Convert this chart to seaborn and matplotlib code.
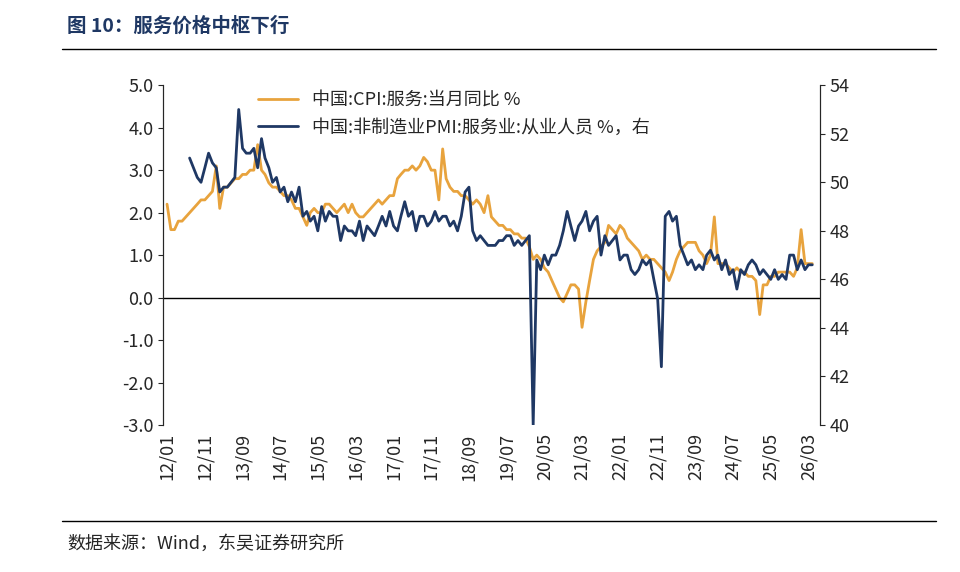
import pandas as pd
import numpy as np
import matplotlib
matplotlib.use('Agg')
import matplotlib.pyplot as plt
import seaborn as sns

sns.set_style('ticks')
plt.rcParams['font.family'] = ['Noto Sans CJK SC', 'DejaVu Sans']
plt.rcParams['axes.unicode_minus'] = False

# CPI services YoY, monthly from 2012-01
cpi_services = [
    2.2, 1.6, 1.6, 1.8, 1.8, 1.9, 2.0, 2.1, 2.2, 2.3, 2.3, 2.4,
    2.5, 3.1, 2.1, 2.6, 2.6, 2.7, 2.8, 2.8, 2.9, 2.9, 3.0, 3.0,
    3.6, 3.0, 2.9, 2.7, 2.6, 2.6, 2.5, 2.4, 2.4, 2.3, 2.1, 2.1,
    1.9, 1.7, 2.0, 2.1, 2.0, 2.0, 2.2, 2.2, 2.1, 2.0, 2.1, 2.2,
    2.0, 2.2, 2.0, 1.9, 1.9, 2.0, 2.1, 2.2, 2.3, 2.2, 2.3, 2.4,
    2.4, 2.8, 2.9, 3.0, 3.0, 3.1, 3.0, 3.1, 3.3, 3.2, 3.0, 3.0,
    2.3, 3.5, 2.8, 2.6, 2.5, 2.5, 2.4, 2.4, 2.3, 2.2, 2.3, 2.2,
    2.0, 2.4, 1.9, 1.8, 1.7, 1.7, 1.6, 1.6, 1.5, 1.5, 1.4, 1.4,
    1.2, 0.9, 1.0, 0.9, 0.7, 0.6, 0.4, 0.2, 0.0, -0.1, 0.1, 0.3,
    0.3, 0.2, -0.7, -0.1, 0.4, 0.9, 1.1, 1.2, 1.3, 1.7, 1.6, 1.5,
    1.7, 1.6, 1.4, 1.3, 1.2, 1.1, 0.9, 1.0, 0.9, 0.9, 0.8, 0.7,
    0.6, 0.4, 0.6, 0.9, 1.1, 1.2, 1.3, 1.3, 1.3, 1.1, 1.0, 0.8,
    1.0, 1.9, 0.8, 0.8, 0.8, 0.7, 0.6, 0.7, 0.6, 0.6, 0.5, 0.5,
    0.4, -0.4, 0.3, 0.3, 0.5, 0.5, 0.6, 0.6, 0.6, 0.6, 0.5, 0.7,
    1.6, 0.8, 0.8, 0.8,
]

# Non-manufacturing PMI: services employment, monthly from 2012-07
pmi_employment = [
    51.0, 50.6, 50.2, 50.0, 50.6, 51.2,
    50.8, 50.6, 49.6, 49.8, 49.8, 50.0, 50.2, 53.0, 51.4, 51.2, 51.2, 51.4,
    50.6, 51.8, 51.0, 50.6, 50.0, 50.2, 49.6, 49.8, 49.2, 49.6, 49.2, 49.8,
    48.6, 48.8, 48.4, 48.6, 48.0, 49.0, 48.4, 48.8, 48.6, 48.6, 47.6, 48.2,
    48.0, 48.0, 47.8, 48.4, 47.6, 48.2, 48.0, 47.8, 48.2, 48.6, 48.2, 48.8,
    48.2, 48.0, 48.6, 49.2, 48.6, 48.8, 48.0, 48.6, 48.6, 48.2, 48.4, 48.8,
    48.4, 48.6, 48.6, 48.2, 48.4, 48.0, 48.6, 49.6, 49.8, 48.0, 47.6, 47.8,
    47.6, 47.4, 47.4, 47.4, 47.6, 47.6, 47.8, 47.8, 47.4, 47.6, 47.4, 47.6,
    47.8, 40.0, 46.8, 46.4, 47.0, 46.6, 47.0, 47.0, 47.4, 48.0, 48.8, 48.2,
    47.6, 48.2, 48.4, 48.8, 48.0, 48.4, 48.6, 47.0, 47.8, 47.4, 47.6, 47.8,
    46.8, 47.0, 47.0, 46.4, 46.2, 46.4, 46.8, 46.6, 46.8, 46.0, 45.2, 42.4,
    48.6, 48.8, 48.4, 48.6, 47.4, 47.0, 46.6, 46.8, 46.4, 46.6, 46.4, 47.0,
    47.2, 46.8, 47.0, 46.4, 46.8, 46.2, 46.4, 45.6, 46.4, 46.2, 46.6, 46.8,
    46.6, 46.2, 46.4, 46.2, 46.0, 46.4, 46.0, 46.2, 46.0, 47.0, 47.0, 46.4,
    46.8, 46.4, 46.6, 46.6,
]

cpi_df = pd.DataFrame({'date': pd.date_range('2012-01-01', periods=len(cpi_services), freq='MS'),
                       'value': cpi_services})
pmi_df = pd.DataFrame({'date': pd.date_range('2012-07-01', periods=len(pmi_employment), freq='MS'),
                       'value': pmi_employment})

orange = '#E8A33D'
navy = '#1F3864'

fig = plt.figure(figsize=(9.6, 5.72), dpi=100)
ax = fig.add_axes([0.17, 0.257, 0.684, 0.594])
ax2 = ax.twinx()

sns.lineplot(data=cpi_df, x='date', y='value', ax=ax, color=orange, lw=2, label='中国:CPI:服务:当月同比 %', legend=False)
sns.lineplot(data=pmi_df, x='date', y='value', ax=ax2, color=navy, lw=2, label='中国:非制造业PMI:服务业:从业人员 %，右', legend=False)

ax.set_ylim(-3, 5)
ax.set_yticks(np.arange(-3, 5.1, 1))
ax.set_yticklabels([f'{v:.1f}' for v in np.arange(-3, 5.1, 1)], fontsize=13)
ax2.set_ylim(40, 54)
ax2.set_yticks(range(40, 55, 2))
ax2.tick_params(axis='y', labelsize=13)

ax.set_xlim(pd.Timestamp('2011-12-01'), pd.Timestamp('2026-06-01'))
ticks = pd.date_range('2012-01-01', '2026-03-01', freq='10MS')
ax.set_xticks(ticks)
ax.set_xticklabels([d.strftime('%y/%m') for d in ticks], rotation=90, fontsize=13)
ax.tick_params(axis='x', length=0, pad=6)
ax.axhline(0, color='black', lw=1)
ax.set_xlabel('')
ax.set_ylabel('')
ax2.set_ylabel('')
for a in (ax, ax2):
    a.spines['top'].set_visible(False)
    a.spines['bottom'].set_visible(False)

h1, l1 = ax.get_legend_handles_labels()
h2, l2 = ax2.get_legend_handles_labels()
ax.legend(h1 + h2, l1 + l2, loc='upper left', bbox_to_anchor=(0.12, 1.03), frameon=False, fontsize=13, handlelength=2.2)

fig.text(0.07, 0.945, '图 10：服务价格中枢下行', fontsize=14, fontweight='bold', color=navy)
fig.add_artist(plt.Line2D([0.065, 0.975], [0.915, 0.915], color='black', lw=1))
fig.add_artist(plt.Line2D([0.065, 0.975], [0.09, 0.09], color='black', lw=1))
fig.text(0.07, 0.04, '数据来源：Wind，东吴证券研究所', fontsize=13)

fig.savefig('out.png', dpi=100)
